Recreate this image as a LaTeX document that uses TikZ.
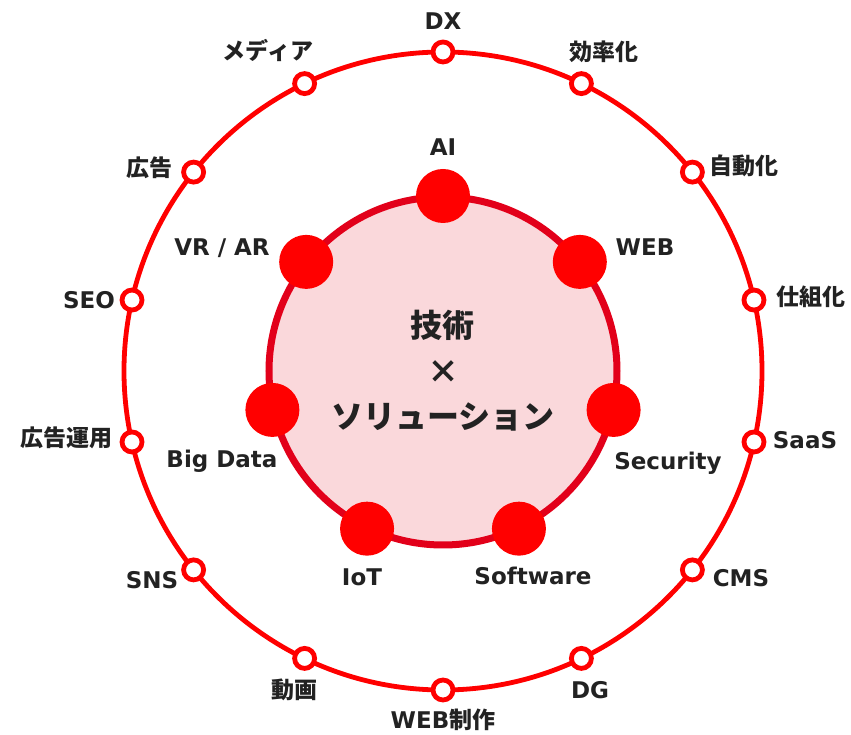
\documentclass[tikz,border=0pt]{standalone}
\usepackage{fontspec}
\setmainfont{DejaVu Sans}
\newfontfamily\jp{Noto Sans CJK JP}
\definecolor{ringred}{HTML}{FF0000}
\definecolor{innerline}{HTML}{E2001A}
\definecolor{innerfill}{HTML}{FAD8DB}
\definecolor{ink}{HTML}{222222}
\tikzset{
  x=1pt, y=1pt,
  stop/.style={circle, draw=ringred, line width=4.8pt, fill=white, minimum size=20pt, inner sep=0pt},
  hub/.style={circle, fill=ringred, minimum size=54pt, inner sep=0pt},
  lbl/.style={text=ink, font=\fontsize{23}{27}\selectfont\bfseries, inner sep=0pt},
  jlbl/.style={text=ink, font=\fontsize{23}{27}\selectfont\jp\bfseries, inner sep=0pt},
  core/.style={text=ink, font=\fontsize{32}{36}\selectfont\jp\bfseries, inner sep=0pt, align=center}
}
\begin{document}
\begin{tikzpicture}
\useasboundingbox (-443,-364) rectangle (408,371);
\coordinate (c) at (0,0);
% outer ring
\draw[ringred, line width=4.8pt] (c) circle (319);
% inner disc
\draw[innerline, fill=innerfill, line width=7pt] (c) circle (174);
% outer stops
\foreach \i in {0,...,13} {
  \node[stop] (s\i) at ({90-\i*360/14}:319) {};
}
% inner hubs
\foreach \i in {0,...,6} {
  \node[hub] (h\i) at ({90-\i*360/7}:175) {};
}
% outer labels
\node[lbl] (l0) at (0,350) {DX};
\node[jlbl] (l1) at (161,319) {効率化};
\node[jlbl] (l2) at (301,205) {自動化};
\node[jlbl] (l3) at (368,74) {仕組化};
\node[lbl] (l4) at (362,-69) {SaaS};
\node[lbl] (l5) at (298,-207) {CMS};
\node[lbl] (l6) at (147,-319) {DG};
\node[lbl] (l7) at (0,-349) {WEB{\jp 制作}};
\node[jlbl] (l8) at (-148,-319) {動画};
\node[lbl] (l9) at (-291,-209) {SNS};
\node[jlbl] (l10) at (-376,-67) {広告運用};
\node[lbl] (l11) at (-354,71) {SEO};
\node[jlbl] (l12) at (-293,203) {広告};
\node[jlbl] (l13) at (-175,321) {メディア};
% inner labels
\node[lbl] (t0) at (0,224) {AI};
\node[lbl] (t1) at (202,124) {WEB};
\node[lbl] (t2) at (225,-92) {Security};
\node[lbl] (t3) at (90,-205) {Software};
\node[lbl] (t4) at (-81,-206) {IoT};
\node[lbl] (t5) at (-221,-90) {Big Data};
\node[lbl] (t6) at (-221,123) {VR / AR};
% centre caption
\node[core] (m1) at (0,46) {技術};
\node[core] (m2) at (0,-1) {×};
\node[core] (m3) at (0,-46) {ソリューション};
\end{tikzpicture}
\end{document}
